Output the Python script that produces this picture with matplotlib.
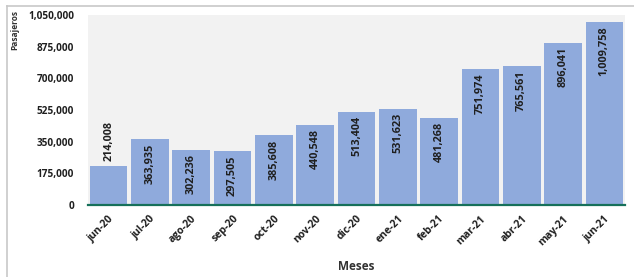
import numpy as np
import matplotlib.pyplot as plt
from matplotlib.lines import Line2D
from matplotlib.ticker import FuncFormatter

meses = ['jun-20', 'jul-20', 'ago-20', 'sep-20', 'oct-20', 'nov-20', 'dic-20',
         'ene-21', 'feb-21', 'mar-21', 'abr-21', 'may-21', 'jun-21']
pasajeros = [214008, 363935, 302236, 297505, 385608, 440548, 513404,
             531623, 481268, 751974, 765561, 896041, 1009758]
y_ticks = [0, 175000, 350000, 525000, 700000, 875000, 1050000]

plt.rcParams['font.family'] = ['Open Sans', 'DejaVu Sans']
plt.rcParams['font.weight'] = 'bold'

fig = plt.figure(figsize=(6.34, 2.77), dpi=100)
ax = fig.add_axes([88 / 634, 72 / 277, 537 / 634, 190 / 277])
ax.set_facecolor('#f2f2f2')

x = np.arange(len(meses))
bars = ax.bar(x, pasajeros, width=0.91, color='#8faadc', zorder=2)

ax.set_xlim(-0.5, len(meses) - 0.5)
ax.set_ylim(0, 1050000)
ax.set_yticks(y_ticks)
ax.yaxis.set_major_formatter(FuncFormatter(lambda v, p: f'{int(v):,}'))
ax.set_xticks(x)
ax.set_xticklabels(meses, rotation=45, ha='right', rotation_mode='anchor')
ax.tick_params(axis='both', length=0, colors='#1f1f1f')
ax.tick_params(axis='x', pad=6, labelsize=7.5)
ax.tick_params(axis='y', pad=10, labelsize=7.2)
for lbl in ax.get_xticklabels() + ax.get_yticklabels():
    lbl.set_fontweight('bold')

for s in ['top', 'right', 'left']:
    ax.spines[s].set_visible(False)
ax.spines['bottom'].set_color('#16705a')
ax.spines['bottom'].set_linewidth(1.6)
ax.spines['bottom'].set_zorder(3)

# value labels: inside the top of the bar, or above when it does not fit
for xi, v in zip(x, pasajeros):
    txt = f'{v:,}'
    if v < 260000:
        ax.annotate(txt, (xi, v), xytext=(0, 4), textcoords='offset points',
                    rotation=90, ha='center', va='bottom', fontsize=7.8,
                    fontweight='bold', color='#1f1f1f', zorder=4)
    else:
        ax.annotate(txt, (xi, v), xytext=(0, -3), textcoords='offset points',
                    rotation=90, ha='center', va='top', fontsize=7.8,
                    fontweight='bold', color='#1f1f1f', zorder=4)

ax.set_xlabel('Meses', fontsize=8.5, fontweight='bold', color='#333333', labelpad=9)
fig.text(15 / 634, 1 - 10 / 277, 'Pasajeros', rotation=90, ha='center', va='top',
         fontsize=6, fontweight='bold', color='#333333')

# outer frame of the original graphic
fig.add_artist(Line2D([7 / 634, 7 / 634], [0, 1 - 6 / 277], color='#c8c8c8', lw=1.2))
fig.add_artist(Line2D([7 / 634, 1], [1 - 6 / 277, 1 - 6 / 277], color='#c8c8c8', lw=1.2))

fig.savefig('out.png', dpi=100)
